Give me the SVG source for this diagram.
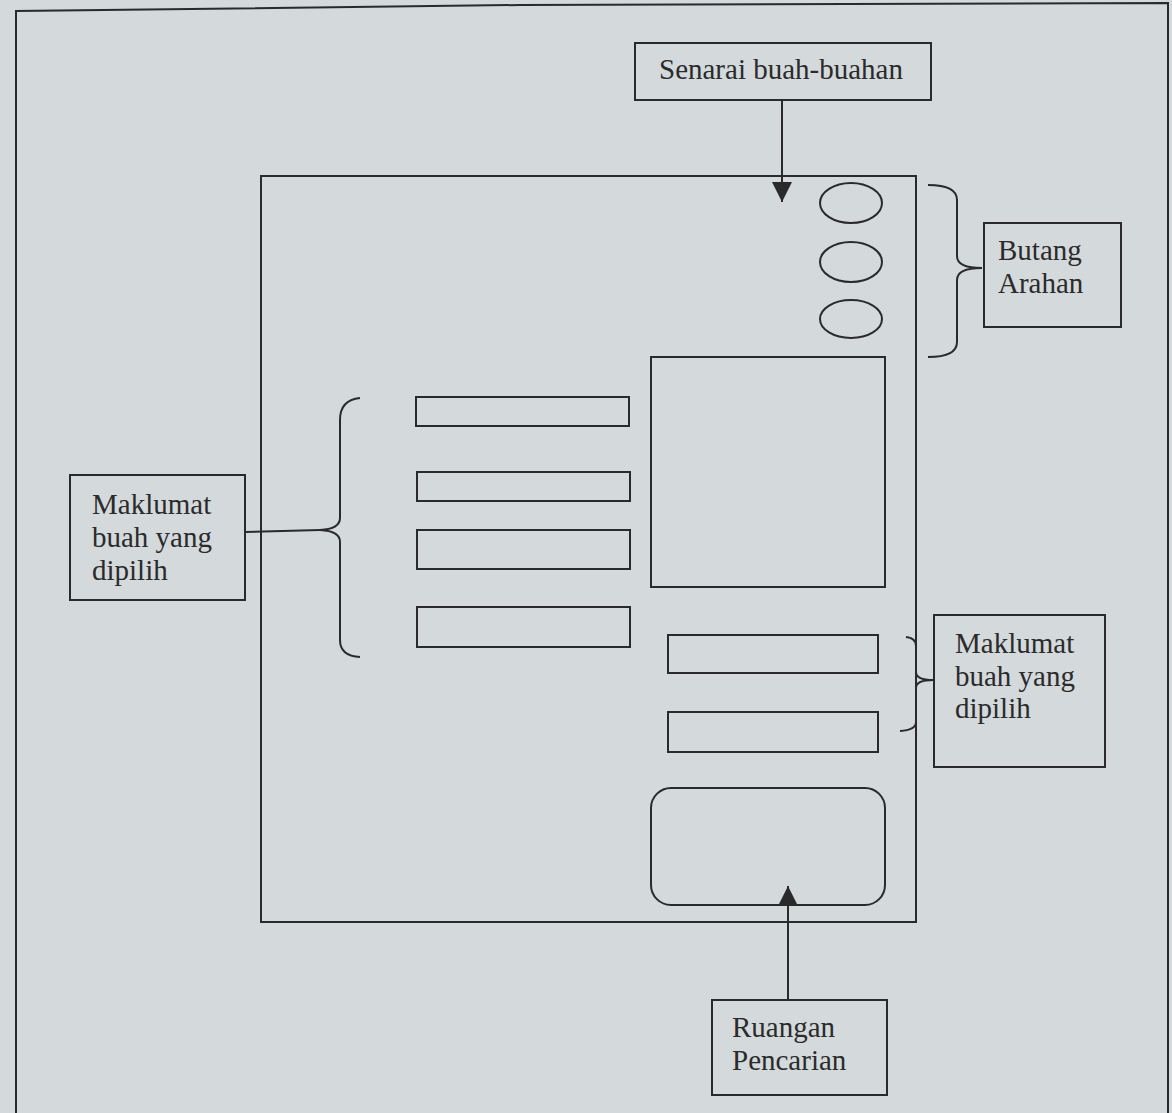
<svg xmlns="http://www.w3.org/2000/svg" width="1172" height="1113" viewBox="0 0 1172 1113">
<style>
.ln{fill:none;stroke:#2a2a2a;stroke-width:2}
.bx{fill:none;stroke:#2a2a2a;stroke-width:2}
.t{font-family:"Liberation Serif","Times New Roman",serif;font-size:29px;fill:#2b2b2b}
</style>
<defs>
<marker id="ah" viewBox="0 0 20 20" refX="20" refY="10" markerWidth="20" markerHeight="20" markerUnits="userSpaceOnUse" orient="auto">
<path d="M0,0 L20,10 L0,20 Z" fill="#2a2a2a"/>
</marker>
</defs>
<rect width="1172" height="1113" fill="#d4d9dc"/>
<g id="frame">
<path class="ln" d="M16,1113 L16,11 L520,5 L1168,3 L1168,1113"/>
</g>
<g id="main-window">
<rect class="bx" x="261" y="176" width="655" height="746"/>
</g>
<g id="btn1"><ellipse class="bx" cx="851" cy="203" rx="31" ry="20"/></g>
<g id="btn2"><ellipse class="bx" cx="851" cy="262" rx="31" ry="20"/></g>
<g id="btn3"><ellipse class="bx" cx="851" cy="319" rx="31" ry="19"/></g>
<g id="field1"><rect class="bx" x="416" y="397" width="213" height="29"/></g>
<g id="field2"><rect class="bx" x="417" y="472" width="213" height="29"/></g>
<g id="field3"><rect class="bx" x="417" y="530" width="213" height="39"/></g>
<g id="field4"><rect class="bx" x="417" y="607" width="213" height="40"/></g>
<g id="picture"><rect class="bx" x="651" y="357" width="234" height="230"/></g>
<g id="field5"><rect class="bx" x="668" y="635" width="210" height="38"/></g>
<g id="field6"><rect class="bx" x="668" y="712" width="210" height="40"/></g>
<g id="search-field"><rect class="bx" x="651" y="788" width="234" height="117" rx="20" ry="20"/></g>
<g id="senarai">
<rect class="bx" x="635" y="43" width="296" height="57"/>
<text class="t" x="781" y="79" text-anchor="middle">Senarai buah-buahan</text>
</g>
<g id="butang-arahan">
<rect class="bx" x="984" y="223" width="137" height="104"/>
<text class="t" x="998" y="260">Butang</text>
<text class="t" x="998" y="293">Arahan</text>
</g>
<g id="maklumat-left">
<rect class="bx" x="70" y="475" width="175" height="125"/>
<text class="t" x="92" y="514">Maklumat</text>
<text class="t" x="92" y="547">buah yang</text>
<text class="t" x="92" y="580">dipilih</text>
</g>
<g id="maklumat-right">
<rect class="bx" x="934" y="615" width="171" height="152"/>
<text class="t" x="955" y="653">Maklumat</text>
<text class="t" x="955" y="686">buah yang</text>
<text class="t" x="955" y="718">dipilih</text>
</g>
<g id="ruangan">
<rect class="bx" x="712" y="1000" width="175" height="95"/>
<text class="t" x="732" y="1037">Ruangan</text>
<text class="t" x="732" y="1070">Pencarian</text>
</g>
<g id="connectors">
<line class="ln" x1="782" y1="100" x2="782" y2="202" marker-end="url(#ah)"/>
<line class="ln" x1="788" y1="1000" x2="788" y2="886" marker-end="url(#ah)"/>
<path class="ln" d="M928,185 Q957,185 957,200 L957,256 Q957,268 982,268 Q957,268 957,280 L957,342 Q957,357 928,357"/>
<path class="ln" d="M360,398 Q340,400 340,420 L340,518 Q340,529 320,530 Q340,531 340,542 L340,640 Q340,656 360,657"/>
<line class="ln" x1="245" y1="532" x2="320" y2="530"/>
<path class="ln" d="M906,637 Q916,638 916,646 L916,672 Q916,680 933,680 Q916,680 916,688 L916,722 Q916,730 900,731"/>
</g>
</svg>
